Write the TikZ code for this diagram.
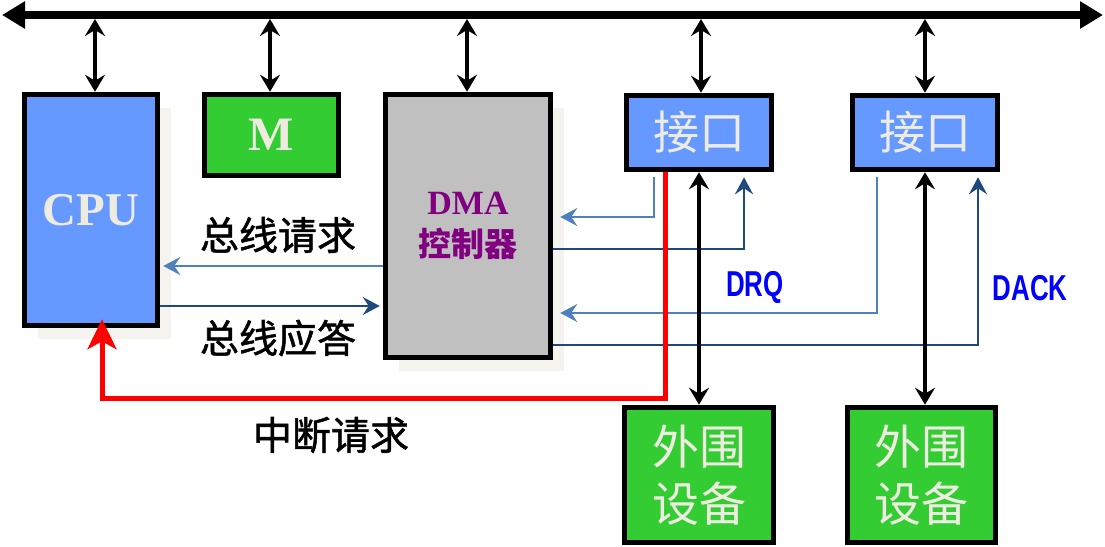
\documentclass[tikz,border=0pt]{standalone}
\usepackage{fontspec}
\setmainfont{Liberation Serif}
\newfontfamily\cjk{Noto Sans CJK SC}
\newfontfamily\cjkm[FakeBold=1.3]{Noto Sans CJK SC}
\newfontfamily\narrowsans[FakeStretch=0.72]{Liberation Sans}
\usetikzlibrary{arrows.meta,shadows}

\definecolor{cpublue}{HTML}{6699FF}
\definecolor{devgreen}{HTML}{33CC33}
\definecolor{dmagray}{HTML}{C0C0C0}
\definecolor{shadowgray}{HTML}{F4F3EE}
\definecolor{boxtext}{HTML}{EEECE1}
\definecolor{dmapurple}{HTML}{800080}
\definecolor{reqblue}{HTML}{4F81BD}
\definecolor{ackblue}{HTML}{1F497D}
\definecolor{sigblue}{HTML}{0000FF}

\begin{document}
\begin{tikzpicture}[x=1pt, y=-1pt,
    box/.style={draw, line width=5.5pt, inner sep=0pt, text=boxtext},
    boxshadow/.style={drop shadow={shadow xshift=13pt, shadow yshift=-13pt, fill=shadowgray, opacity=1}},
    bus/.style={line width=8pt, {Triangle[length=23pt,width=26pt]}-{Triangle[length=23pt,width=26pt]}},
    dbl/.style={line width=4pt, {Stealth[length=17pt,width=20pt,inset=6pt]}-{Stealth[length=17pt,width=20pt,inset=6pt]}},
    req/.style={reqblue, line width=2.7pt, -{Stealth[length=17pt,width=18pt,inset=6pt]}},
    ack/.style={ackblue, line width=2.7pt, -{Stealth[length=17pt,width=18pt,inset=6pt]}},
    irq/.style={red, line width=5pt, -{Stealth[length=30pt,width=29pt,inset=8pt]}},
    lbl/.style={font=\cjkm\fontsize{39}{44}\selectfont},
    sigtext/.style={text=sigblue, font=\narrowsans\bfseries\fontsize{36}{40}\selectfont}
]
    \useasboundingbox (0,0) rectangle (1105,546);

    % System bus
    \coordinate (busL) at (2,15);
    \coordinate (busR) at (1103,15);
    \draw[bus] (busL) -- (busR);

    % CPU, memory and DMA controller
    \node at (91, 210) (cpu) [box, boxshadow, fill=cpublue, minimum width=133pt, minimum height=231pt,
        font=\bfseries\fontsize{47}{50}\selectfont] {CPU};
    \node at (271.5, 135) (mem) [box, fill=devgreen, minimum width=134pt, minimum height=81pt,
        font=\bfseries\fontsize{48}{50}\selectfont] {M};
    \node at (468, 226) (dma) [box, boxshadow, fill=dmagray, minimum width=165pt, minimum height=263pt,
        text=dmapurple, align=center, font=\bfseries\fontsize{34}{42}\selectfont] {DMA\\{\cjk\bfseries\fontsize{33}{42}\selectfont 控制器}};

    % Interfaces
    \node at (699, 132.5) (if1) [box, fill=cpublue, minimum width=145pt, minimum height=74pt,
        font=\cjk\fontsize{46}{50}\selectfont] {接口};
    \node at (925, 132.5) (if2) [box, fill=cpublue, minimum width=145pt, minimum height=74pt,
        font=\cjk\fontsize{46}{50}\selectfont] {接口};

    % Peripheral devices
    \node at (699, 475) (dev1) [box, fill=devgreen, minimum width=149pt, minimum height=135pt,
        align=center, font=\cjk\fontsize{47}{57}\selectfont] {外围\\设备};
    \node at (921.5, 475) (dev2) [box, fill=devgreen, minimum width=148pt, minimum height=135pt,
        align=center, font=\cjk\fontsize{47}{57}\selectfont] {外围\\设备};

    % Labels
    \node at (278, 235) (lreq) [lbl] {总线请求};
    \node at (278, 338) (lack) [lbl] {总线应答};
    \node at (331, 435) (lirq) [lbl] {中断请求};
    \node at (755, 287) (ldrq) [sigtext] {DRQ};
    \node at (1030, 288) (ldack) [sigtext] {DACK};

    % Bus request and grant
    \draw[req, shorten >=3pt] (dma.west |- 0,266) -- (cpu.east |- 0,266);
    \draw[ack, shorten >=3pt] (cpu.east |- 0,306) -- (dma.west |- 0,306);

    % DRQ and DACK lines
    \coordinate (drqA) at ([xshift=-45pt, yshift=-5pt]if1.south);
    \coordinate (dackA) at ([xshift=45pt, yshift=-5pt]if1.south);
    \coordinate (drqB) at ([xshift=-48pt, yshift=-5pt]if2.south);
    \coordinate (dackB) at ([xshift=53pt, yshift=-5pt]if2.south);
    \draw[req, shorten >=7pt] (drqA) |- (dma.east |- 0,217);
    \draw[ack] (dma.east |- 0,249) -| (dackA);
    \draw[req, shorten >=7pt] (drqB) |- (dma.east |- 0,313);
    \draw[ack] (dma.east |- 0,345) -| (dackB);

    % Arrows to the bus
    \coordinate (bcpu) at (95,19);
    \coordinate (bmem) at (270,19);
    \coordinate (bdma) at (467,19);
    \coordinate (bif1) at (701,19);
    \coordinate (bif2) at (925,19);
    \draw[dbl] (bcpu) -- (bcpu |- cpu.north);
    \draw[dbl] (bmem) -- (bmem |- mem.north);
    \draw[dbl] (bdma) -- (bdma |- dma.north);
    \draw[dbl] (bif1) -- (bif1 |- if1.north);
    \draw[dbl] (bif2) -- (bif2 |- if2.north);

    % Interfaces to devices
    \draw[dbl] (if1.south) -- (dev1.north);
    \draw[dbl] (if2.south) -- (if2.south |- dev2.north);

    % Interrupt request
    \coordinate (irqA) at ([xshift=-34pt]if1.south);
    \coordinate (irqB) at (102,398);
    \draw[irq, shorten >=-9pt] (irqA) |- (irqB) -- (irqB |- cpu.south);

\end{tikzpicture}
\end{document}
